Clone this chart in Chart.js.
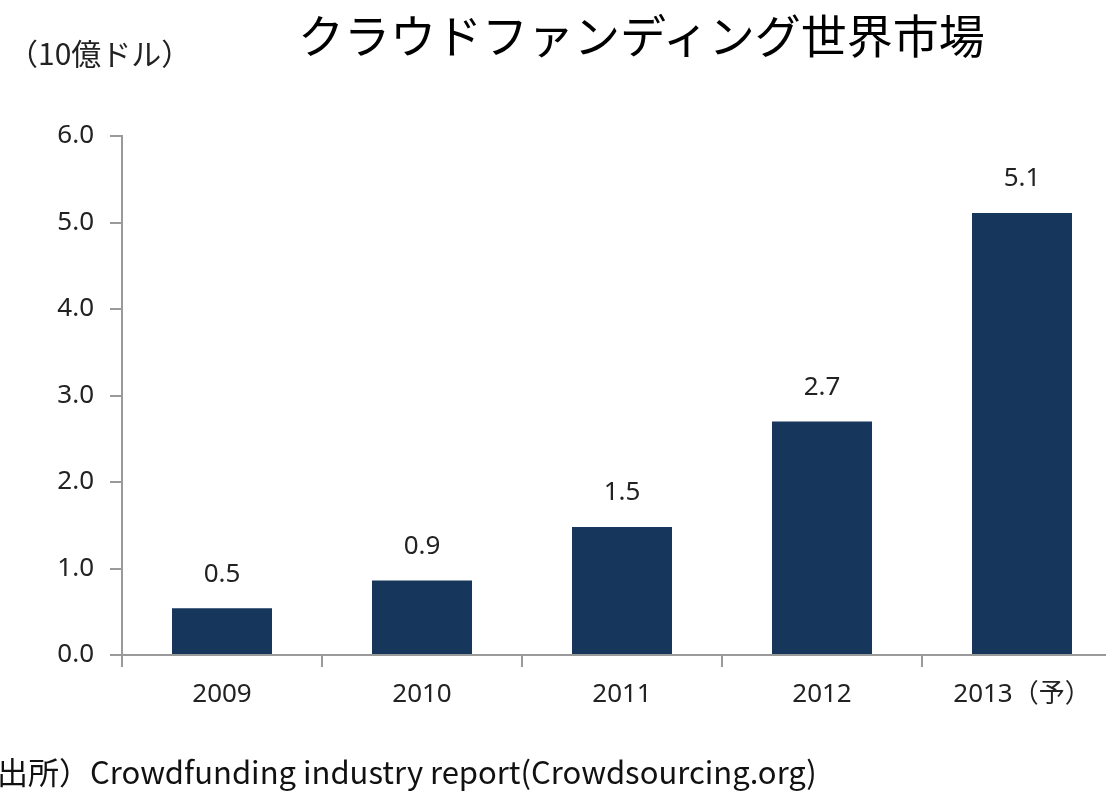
<!DOCTYPE html>
<html>
<head>
<meta charset="utf-8">
<script src="https://cdn.jsdelivr.net/npm/chart.js@4"></script>
<style>
  html, body { margin: 0; padding: 0; background: #fff; overflow: hidden; width: 1106px; height: 793px; }
  #wrap { position: relative; width: 1140px; height: 793px; }
  canvas { position: absolute; left: 0; top: 0; }
  .txt { position: absolute; white-space: nowrap; color: #111; font-family: "Noto Sans CJK JP", "Noto Sans", sans-serif; }
  #title { left: 298px; top: 0px; font-size: 46px; color: #000; }
  #unit { left: 8px; top: 30px; font-size: 30px; color: #222; }
  #src { left: -3px; top: 748px; font-size: 31px; color: #111; }
</style>
</head>
<body>
<div id="wrap">
  <canvas id="chMarket" width="1140" height="793"></canvas>
  <div class="txt" id="title">クラウドファンディング世界市場</div>
  <div class="txt" id="unit">（10億ドル）</div>
  <div class="txt" id="src">出所）Crowdfunding industry report(Crowdsourcing.org)</div>
</div>
<script>
// dati (10億ドル)
const years  = ['2009', '2010', '2011', '2012', '2013（予）'];
const market = [0.54, 0.86, 1.48, 2.70, 5.11];
const yTicks = [0, 1, 2, 3, 4, 5, 6];

const AXIS = '#9a9a9a';
const TXT  = '#222';
const FONT = '"Noto Sans", "Noto Sans CJK JP", sans-serif';

/* etichette sopra le barre (niente plugin datalabels: lo facciamo a mano) */
const barLabels = {
  id: 'barLabels',
  afterDatasetsDraw(chart) {
    const ctx = chart.ctx;
    const meta = chart.getDatasetMeta(0);
    ctx.save();
    ctx.font = '26px ' + FONT;
    ctx.fillStyle = TXT;
    ctx.textAlign = 'center';
    ctx.textBaseline = 'middle';
    meta.data.forEach((el, i) => {
      ctx.fillText(market[i].toFixed(1), el.x, el.y - 34);
    });
    ctx.restore();
  }
};

new Chart(document.getElementById('chMarket'), {
  type: 'bar',
  data: {
    labels: years,
    datasets: [{
      data: market,
      backgroundColor: '#16365c',
      borderWidth: 0,
      barPercentage: 0.5,
      categoryPercentage: 1
    }]
  },
  options: {
    responsive: false,
    animation: false,
    layout: { padding: { top: 136, right: 18, bottom: 0, left: 0 } },
    plugins: {
      legend: { display: false },
      tooltip: { enabled: false }
    },
    scales: {
      x: {
        afterFit: s => { s.height = 138; },
        grid: { display: true, offset: true, drawOnChartArea: false, drawTicks: true, tickLength: 12, color: AXIS, lineWidth: 2 },
        border: { display: true, color: AXIS, width: 2 },
        ticks: { color: TXT, font: { size: 26, family: FONT }, padding: 12, maxRotation: 0 }
      },
      y: {
        min: 0, max: 6,
        afterFit: s => { s.width = 122; },
        afterBuildTicks: s => { s.ticks = yTicks.map(v => ({ value: v })); },
        grid: { display: true, drawOnChartArea: false, drawTicks: true, tickLength: 12, color: AXIS, lineWidth: 2 },
        border: { display: true, color: AXIS, width: 2 },
        ticks: { color: TXT, font: { size: 26, family: FONT }, padding: 16, callback: v => Number(v).toFixed(1) }
      }
    }
  },
  plugins: [barLabels]
});
</script>
</body>
</html>
